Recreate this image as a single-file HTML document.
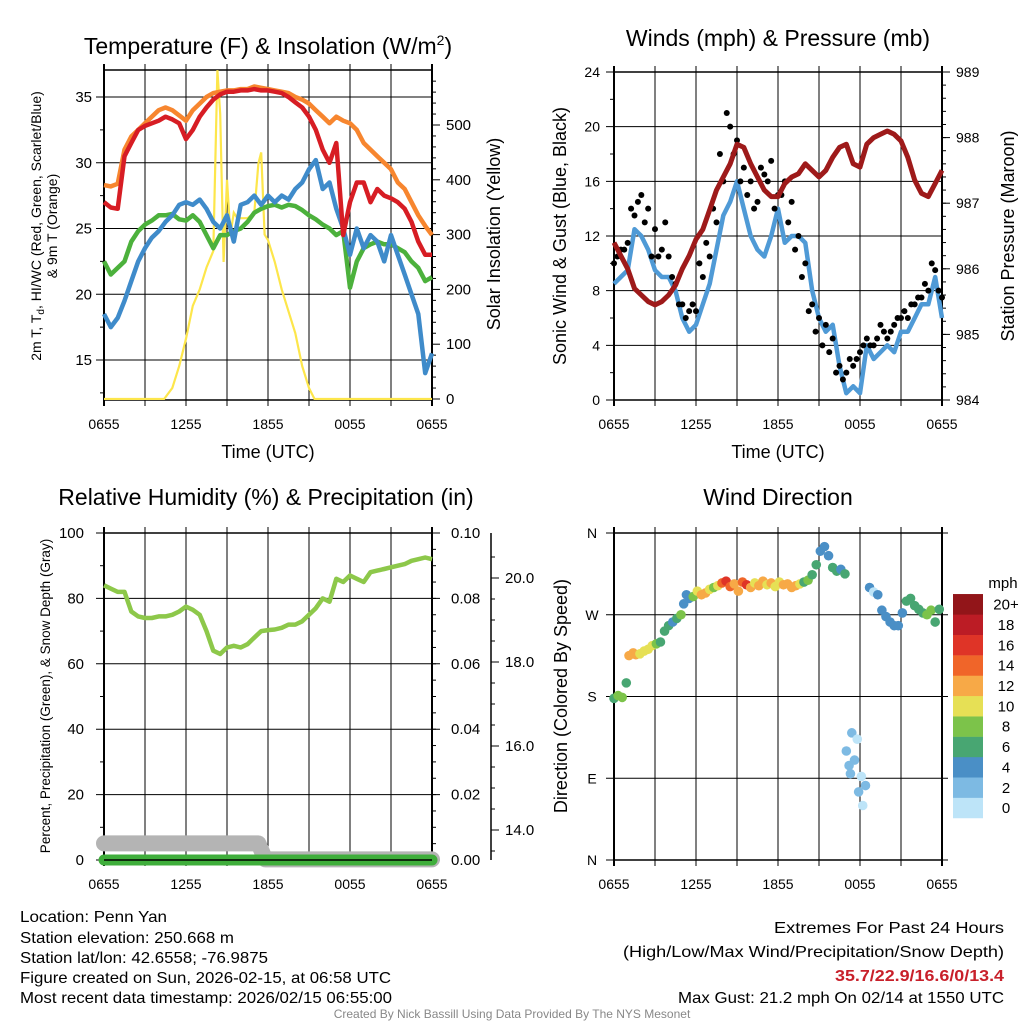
<!DOCTYPE html>
<html><head><meta charset="utf-8"><title>Penn Yan Mesonet</title>
<style>
html,body{margin:0;padding:0;background:#fff;}
svg{display:block;font-family:"Liberation Sans",sans-serif;}
.t{font-size:14px;fill:#000;}
.ttl{font-size:23px;fill:#000;}
.al{font-size:18px;fill:#000;}
.info{font-size:16px;fill:#000;font-family:"Liberation Sans Narrow","Liberation Sans",sans-serif;}
</style></head>
<body>
<svg id="fig" width="1024" height="1024" viewBox="0 0 1024 1024">
<rect x="0" y="0" width="1024" height="1024" fill="#fff"/>
<g id="layer"></g>
<!-- titles -->
<text class="ttl" x="268" y="54" text-anchor="middle">Temperature (F) &amp; Insolation (W/m<tspan dy="-9" font-size="14">2</tspan><tspan dy="9">)</tspan></text>
<text class="ttl" x="778" y="46" text-anchor="middle">Winds (mph) &amp; Pressure (mb)</text>
<text class="ttl" x="266" y="505" text-anchor="middle">Relative Humidity (%) &amp; Precipitation (in)</text>
<text class="ttl" x="778" y="505" text-anchor="middle">Wind Direction</text>
<!-- axis titles -->
<text class="al" x="268" y="458" text-anchor="middle">Time (UTC)</text>
<text class="al" x="778" y="458" text-anchor="middle">Time (UTC)</text>
<text x="41" y="226" font-size="14" text-anchor="middle" transform="rotate(-90 41 226)">2m T, T<tspan dy="3" font-size="10">d</tspan><tspan dy="-3">, HI/WC (Red, Green, Scarlet/Blue)</tspan></text>
<text x="57" y="226" font-size="14" text-anchor="middle" transform="rotate(-90 57 226)">&amp; 9m T (Orange)</text>
<text class="al" x="500" y="234" text-anchor="middle" transform="rotate(-90 500 234)">Solar Insolation (Yellow)</text>
<text class="al" x="566" y="236" text-anchor="middle" transform="rotate(-90 566 236)">Sonic Wind &amp; Gust (Blue, Black)</text>
<text class="al" x="1014" y="236" text-anchor="middle" transform="rotate(-90 1014 236)">Station Pressure (Maroon)</text>
<text x="50" y="696" font-size="13.5" text-anchor="middle" transform="rotate(-90 50 696)">Percent, Precipitation (Green), &amp; Snow Depth (Gray)</text>
<text class="al" x="567" y="696" text-anchor="middle" transform="rotate(-90 567 696)">Direction (Colored By Speed)</text>
<text x="1003" y="588" font-size="15" text-anchor="middle">mph</text>
<!-- info text -->
<text class="info" x="20" y="922" textLength="147" lengthAdjust="spacingAndGlyphs">Location: Penn Yan</text>
<text class="info" x="20" y="943" textLength="214" lengthAdjust="spacingAndGlyphs">Station elevation: 250.668 m</text>
<text class="info" x="20" y="963" textLength="248" lengthAdjust="spacingAndGlyphs">Station lat/lon: 42.6558; -76.9875</text>
<text class="info" x="20" y="983" textLength="371" lengthAdjust="spacingAndGlyphs">Figure created on Sun, 2026-02-15, at 06:58 UTC</text>
<text class="info" x="20" y="1003" textLength="372" lengthAdjust="spacingAndGlyphs">Most recent data timestamp: 2026/02/15 06:55:00</text>
<text class="info" x="774" y="933" textLength="230" lengthAdjust="spacingAndGlyphs">Extremes For Past 24 Hours</text>
<text class="info" x="623" y="957" textLength="381" lengthAdjust="spacingAndGlyphs">(High/Low/Max Wind/Precipitation/Snow Depth)</text>
<text class="info" x="835" y="981" textLength="169" lengthAdjust="spacingAndGlyphs" font-weight="bold" style="fill:#c8202a">35.7/22.9/16.6/0/13.4</text>
<text class="info" x="678" y="1003" textLength="326" lengthAdjust="spacingAndGlyphs">Max Gust: 21.2 mph On 02/14 at 1550 UTC</text>
<text x="512" y="1018" font-size="12" text-anchor="middle" fill="#888" font-family="Liberation Sans Narrow, Liberation Sans, sans-serif">Created By Nick Bassill Using Data Provided By The NYS Mesonet</text>
</svg>
<script>
// ---------- data (half-hour samples, hours since 0655 UTC) ----------
const xTickLabels = ['0655','1255','1855','0055','0655'];
const orangeT = [28.3,28.2,28.4,31,32,32.5,33,33.5,34,34.2,34,33.6,33.2,34,34.5,35,35.3,35.4,35.5,35.5,35.6,35.6,35.8,35.7,35.6,35.5,35.4,35.3,35.0,34.8,34.5,34.0,33.5,33.0,33.5,33.2,33.0,32.5,31.5,31.0,30.5,30.0,29.5,28.5,28.0,27.0,26.0,25.2,24.5];
const redT = [27,26.6,26.5,30.5,31.5,32.5,32.8,33,33.2,33.5,33.3,33,31.8,32.5,33.5,34.2,34.8,35.2,35.4,35.4,35.5,35.5,35.6,35.5,35.5,35.4,35.3,35,34.6,34.2,33.5,32.5,31,30,31.5,24.5,27,28.5,28.5,27,28,27.5,27.3,27,26.5,25.5,24,23,23];
const blueT = [18.5,17.5,18.2,19.5,21,22.5,23.5,24.3,24.8,25.5,26,26.8,27,26.8,27.2,26.5,25.5,25,26,24,26.8,27,27.5,26.8,27.5,27,27.5,27.2,28,28.5,29.5,30.2,28,28.5,26.5,25,23,25,23.5,24.5,24,22.5,24.5,23,21.5,20,18.5,14,15.5];
const greenT = [22.5,21.5,22,22.5,24,24.8,25.3,25.6,26,26,26.1,25.7,25.6,26,25.5,24.5,23.5,24.5,24.5,24.8,25,25.5,26.2,26.5,26.7,26.8,26.6,26.8,26.7,26.4,26,25.7,25.3,25,24.5,24.8,20.5,22.5,23.5,23.8,24,23.8,23.8,23.5,23.2,22.5,22,21,21.3];
const solarT = [0,4.4,5,5.5,6,6.5,7,7.5,8,8.3,8.5,8.75,9,9.25,9.5,9.75,10,10.5,11,11.3,11.5,11.75,12,12.5,13,13.5,14,14.5,15,15.4,24];
const solarV = [0,0,20,60,110,170,200,240,270,600,520,250,400,300,340,330,330,330,340,430,450,300,290,250,200,160,120,60,20,0,0];
const windV = [8.5,9,9.5,12.5,12,11,9.5,9,9,8,6,5,5.5,7,8.5,11,13.5,14.5,16,14,12,11,10.5,12,14,11.5,12,12,11.5,8,6,5,5.5,2.5,0.5,1,0.5,4,3,3.5,4,3.5,5,5,6,7,7,9,6];
const gustA = [10,11,11.5,13.5,15,14,12.5,11,10.5,8.5,7,6.5,6.5,9,10.5,13,16,20,19,17,16,14.5,16.5,17.5,15,16,14.5,12,10,7,6,5.5,4.5,2.5,2,2.5,3.5,4.5,4,5.5,4.5,5.5,6,6,7,7.5,8,9.5,7.5];
const gustB = [10.5,11,14,14.5,13,10.5,10.5,13,9,7,6,7,10,11.5,14,18,21,18,16,15,14,17,16,14,15,13,11,9,6.5,5,4,3.5,2,1.5,3,3,4,4,4.5,5,5,6,6.5,7,7.5,8.5,10,8];
const pressureV = [986.4,986.2,986.0,985.7,985.6,985.5,985.45,985.5,985.6,985.75,986.0,986.2,986.45,986.6,986.9,987.2,987.4,987.6,987.9,987.85,987.6,987.4,987.2,987.1,987.1,987.3,987.4,987.45,987.6,987.5,987.4,987.5,987.7,987.85,987.9,987.6,987.55,987.9,988.0,988.05,988.1,988.05,987.95,987.7,987.35,987.15,987.1,987.3,987.5];
const rhV = [84,83,82,82,76,74.5,74,74,74.5,74.5,75,76,77.5,76.5,75,70,64,63,65,65.5,65,66,68,70,70.3,70.5,71,72,72,73,75,77,80,79,86,85,87,86,85,88,88.5,89,89.5,90,90.5,91.5,92,92.5,92];
const precipV = [0,0,0,0,0,0,0,0,0,0,0,0,0,0,0,0,0,0,0,0,0,0,0,0,0,0,0,0,0,0,0,0,0,0,0,0,0,0,0,0,0,0,0,0,0,0,0,0,0];
const snowT = [0,11.3,11.8,24];
const snowV = [13.68,13.68,13.3,13.3];
const dirT = [0,0.3,0.6,0.9,1.1,1.4,1.6,1.9,2.2,2.5,2.8,3.1,3.4,3.7,4.0,4.3,4.6,4.9,5.1,5.3,5.5,5.8,6.1,6.4,6.7,7.0,7.3,7.6,7.9,8.2,8.5,8.8,9.1,9.4,9.7,10.0,10.3,10.6,10.9,11.2,11.5,11.8,12.1,12.4,12.7,13.0,13.3,13.6,13.9,14.2,14.5,14.8,15.1,15.4,15.7,16.0,16.3,16.6,16.9,17.2,17.0,17.3,17.6,17.9,18.2,17.4,17.8,18.1,18.4,18.7,19.0,19.3,19.6,19.9,20.2,20.5,20.8,21.1,21.4,21.7,22.0,22.3,22.6,22.9,23.2,23.5,23.8];
const dirDeg = [178,181,179,195,225,228,226,227,230,232,236,238,240,252,258,262,266,270,282,292,288,290,296,292,294,298,300,302,305,307,301,304,296,306,303,300,305,302,307,303,305,301,306,303,304,300,302,304,306,308,314,325,340,345,335,322,318,320,315,104,120,95,110,75,60,140,133,92,82,300,295,292,275,268,262,258,258,272,285,288,280,276,272,270,275,262,276];
const dirSpd = [7,9,8,7,12,13,12,11,10,11,10,9,7,6,7,5,6,8,5,4,5,9,10,13,12,11,8,11,14,17,15,12,13,14,16,12,10,13,12,11,12,11,10,12,13,12,12,11,6,9,7,6,5,4,5,6,7,5,7,2,2,3,2,2,1,3,1,1,3,4,1,4,4,5,4,4,4,5,7,6,7,7,6,8,8,7,6];
const speedColors = ['#bde4f8','#7dbae3','#4a8fc6','#48a672','#7cc34a','#e6e055','#f7a947','#f06529','#df3427','#bc1c25','#921519'];
const speedLabels = ['0','2','4','6','8','10','12','14','16','18','20+'];

// ---------- helpers ----------
const NS = 'http://www.w3.org/2000/svg';
const layer = document.getElementById('layer');
function mk(tag, attrs, name, inter) {
  const el = document.createElementNS(NS, tag);
  for (const k in attrs) el.setAttribute(k, attrs[k]);
  
  
  layer.appendChild(el);
  return el;
}
function label(x, y, txt, anchor, name, size) {
  const t = mk('text', {x: x, y: y, 'text-anchor': anchor, 'font-size': size || 14}, name, false);
  t.textContent = txt;
  return t;
}
function lin(d0, d1, r0, r1) { return v => r0 + (v - d0) / (d1 - d0) * (r1 - r0); }
function halfHours(n) { const a = []; for (let i = 0; i < n; i++) a.push(i * 0.5); return a; }
function pathD(xs, ys, fx, fy) { return xs.map((t, i) => (i ? 'L' : 'M') + fx(t).toFixed(1) + ' ' + fy(ys[i]).toFixed(1)).join(' '); }

function panel(P, id) {
  for (let h = 0; h <= 24; h += 3) {
    const x = P.fx(h);
    mk('line', {x1: x, y1: P.y0 - 6, x2: x, y2: P.y1 + 6, stroke: '#000', 'stroke-width': (h % 24 === 0) ? 2 : 1}, id + '-vgrid', false);
  }
  mk('line', {x1: P.x0, y1: P.y0, x2: P.x1, y2: P.y0, stroke: '#000', 'stroke-width': 1.5}, id + '-top-border', false);
  mk('line', {x1: P.x0, y1: P.y1, x2: P.x1, y2: P.y1, stroke: '#000', 'stroke-width': 1.5}, id + '-bottom-border', false);
  xTickLabels.forEach((l, i) => {
    label(P.fx(i * 6), P.y1 + 29, l, 'middle', id + '-x-tick-label');
  });
}

// ---------- Panel 1: temperature ----------
const P1 = {x0: 104, x1: 432, y0: 70, y1: 400};
P1.fx = lin(0, 24, P1.x0, P1.x1);
const fyT = lin(15, 35, 360, 97);
const fyS = lin(0, 500, 399, 125);
panel(P1, 'temp');
[15, 20, 25, 30, 35].forEach(v => {
  mk('line', {x1: P1.x0 - 8, y1: fyT(v), x2: P1.x1, y2: fyT(v), stroke: '#000', 'stroke-width': 1}, 'temp-hgrid', false);
  label(P1.x0 - 12, fyT(v) + 5, String(v), 'end', 'temp-y-tick-label', 15);
});
[12.5,17.5,22.5,27.5,32.5,37.5].forEach(v => { if (fyT(v) > P1.y0) mk('line', {x1: P1.x0 - 4, y1: fyT(v), x2: P1.x0, y2: fyT(v), stroke: '#000'}, 'temp-minor-tick', false); });
[0,100,200,300,400,500].forEach(v => {
  mk('line', {x1: P1.x1, y1: fyS(v), x2: P1.x1 + 8, y2: fyS(v), stroke: '#000'}, 'solar-tick', false);
  label(P1.x1 + 14, fyS(v) + 5, String(v), 'start', 'solar-y-tick-label', 15);
});
for (let v = 20; v < 600; v += 20) if (v % 100) mk('line', {x1: P1.x1, y1: fyS(v), x2: P1.x1 + 4, y2: fyS(v), stroke: '#000'}, 'solar-minor-tick', false);
const hh = halfHours(49);
const clip1 = document.createElementNS(NS, 'clipPath'); clip1.setAttribute('id', 'c1');
const cr1 = document.createElementNS(NS, 'rect'); cr1.setAttribute('x', P1.x0); cr1.setAttribute('y', P1.y0 - 4); cr1.setAttribute('width', P1.x1 - P1.x0 + 2); cr1.setAttribute('height', P1.y1 - P1.y0 + 4);
clip1.appendChild(cr1); layer.appendChild(clip1);
mk('path', {d: pathD(solarT, solarV, P1.fx, fyS), fill: 'none', stroke: '#fde64b', 'stroke-width': 2.2, 'clip-path': 'url(#c1)'}, 'solar-insolation-line', false);
mk('path', {d: pathD(hh, greenT, P1.fx, fyT), fill: 'none', stroke: '#4cb13c', 'stroke-width': 4.5, 'stroke-linejoin': 'round'}, 'dewpoint-line', false);
mk('path', {d: pathD(hh, blueT, P1.fx, fyT), fill: 'none', stroke: '#3f8bca', 'stroke-width': 4.5, 'stroke-linejoin': 'round'}, 'windchill-line', false);
mk('path', {d: pathD(hh, orangeT, P1.fx, fyT), fill: 'none', stroke: '#f7862f', 'stroke-width': 4.5, 'stroke-linejoin': 'round'}, 'temp-9m-line', false);
mk('path', {d: pathD(hh, redT, P1.fx, fyT), fill: 'none', stroke: '#d71d24', 'stroke-width': 4.5, 'stroke-linejoin': 'round'}, 'temp-2m-line', false);

// ---------- Panel 2: winds ----------
const P2 = {x0: 614, x1: 942, y0: 72, y1: 400};
P2.fx = lin(0, 24, P2.x0, P2.x1);
const fyW = lin(0, 24, 400, 72);
const fyP = lin(984, 989, 400, 72);
panel(P2, 'wind');
[0,4,8,12,16,20,24].forEach(v => {
  mk('line', {x1: P2.x0 - 8, y1: fyW(v), x2: P2.x1, y2: fyW(v), stroke: '#000', 'stroke-width': 1}, 'wind-hgrid', false);
  label(P2.x0 - 14, fyW(v) + 5, String(v), 'end', 'wind-y-tick-label');
});
[2,6,10,14,18,22].forEach(v => mk('line', {x1: P2.x0 - 4, y1: fyW(v), x2: P2.x0, y2: fyW(v), stroke: '#000'}, 'wind-minor-tick', false));
[984,985,986,987,988,989].forEach(v => {
  mk('line', {x1: P2.x1, y1: fyP(v), x2: P2.x1 + 8, y2: fyP(v), stroke: '#000'}, 'pressure-tick', false);
  label(P2.x1 + 14, fyP(v) + 5, String(v), 'start', 'pressure-y-tick-label');
});
for (let v = 984.2; v < 989; v += 0.2) mk('line', {x1: P2.x1, y1: fyP(v), x2: P2.x1 + 4, y2: fyP(v), stroke: '#000'}, 'pressure-minor-tick', false);
mk('path', {d: pathD(hh, windV, P2.fx, fyW), fill: 'none', stroke: '#4f9ad6', 'stroke-width': 4.5, 'stroke-linejoin': 'round'}, 'sonic-wind-line', false);
gustA.forEach((g, i) => { mk('circle', {cx: P2.fx(hh[i]), cy: fyW(g), r: 3, fill: '#000'}, 'gust-point', false); });
gustB.forEach((g, i) => { mk('circle', {cx: P2.fx(hh[i] + 0.25), cy: fyW(g), r: 3, fill: '#000'}, 'gust-point', false); });
mk('path', {d: pathD(hh, pressureV, P2.fx, fyP), fill: 'none', stroke: '#9e1a1a', 'stroke-width': 5, 'stroke-linejoin': 'round'}, 'pressure-line', false);

// ---------- Panel 3: humidity ----------
const P3 = {x0: 104, x1: 432, y0: 533, y1: 860};
P3.fx = lin(0, 24, P3.x0, P3.x1);
const fyR = lin(0, 100, 860, 533);
const fyPr = lin(0, 0.1, 860, 533);
const fySn = lin(14, 20, 830, 578);
panel(P3, 'rh');
[0,20,40,60,80,100].forEach(v => {
  mk('line', {x1: P3.x0 - 8, y1: fyR(v), x2: P3.x1 + 8, y2: fyR(v), stroke: '#000', 'stroke-width': 1}, 'rh-hgrid', false);
  label(P3.x0 - 20, fyR(v) + 5, String(v), 'end', 'rh-y-tick-label', 15);
});
[10,30,50,70,90].forEach(v => mk('line', {x1: P3.x0 - 4, y1: fyR(v), x2: P3.x0, y2: fyR(v), stroke: '#000'}, 'rh-minor-tick', false));
[0,0.02,0.04,0.06,0.08,0.10].forEach(v => label(P3.x1 + 19, fyPr(v) + 5, v.toFixed(2), 'start', 'precip-y-tick-label', 15));
for (let v = 0.005; v < 0.1; v += 0.005) mk('line', {x1: P3.x1, y1: fyPr(v), x2: P3.x1 + 4, y2: fyPr(v), stroke: '#000'}, 'precip-minor-tick', false);
mk('line', {x1: 491, y1: 533, x2: 491, y2: 860, stroke: '#000', 'stroke-width': 1.5}, 'snow-axis-line', false);
[14,16,18,20].forEach(v => {
  mk('line', {x1: 491, y1: fySn(v), x2: 499, y2: fySn(v), stroke: '#000'}, 'snow-tick', false);
  label(505, fySn(v) + 5, v.toFixed(1), 'start', 'snow-y-tick-label', 15);
});
for (let v = 13.5; v < 21; v += 0.5) if (v % 2) mk('line', {x1: 491, y1: fySn(v), x2: 495, y2: fySn(v), stroke: '#000'}, 'snow-minor-tick', false);
mk('path', {d: pathD(snowT, snowV, P3.fx, fySn), fill: 'none', stroke: '#b4b4b4', 'stroke-width': 16, 'stroke-linecap': 'round', 'stroke-linejoin': 'round'}, 'snow-depth-line', false);
mk('path', {d: pathD(hh, precipV, P3.fx, fyPr), fill: 'none', stroke: '#3fae3b', 'stroke-width': 11, 'stroke-linecap': 'round'}, 'precipitation-line', false);
mk('line', {x1: P3.x0, y1: P3.y1, x2: P3.x1, y2: P3.y1, stroke: '#000', 'stroke-width': 1.5}, 'rh-bottom-axis', false);
mk('path', {d: pathD(hh, rhV, P3.fx, fyR), fill: 'none', stroke: '#8dc84a', 'stroke-width': 4.5, 'stroke-linejoin': 'round'}, 'relative-humidity-line', false);

// ---------- Panel 4: direction ----------
const P4 = {x0: 614, x1: 942, y0: 533, y1: 860};
P4.fx = lin(0, 24, P4.x0, P4.x1);
const fyD = lin(0, 360, 860, 533);
panel(P4, 'dir');
['N','E','S','W','N'].forEach((l, i) => {
  const v = i * 90;
  mk('line', {x1: P4.x0 - 8, y1: fyD(v), x2: P4.x1 + 6, y2: fyD(v), stroke: '#000', 'stroke-width': 1}, 'dir-hgrid', false);
  label(P4.x0 - 22, fyD(v) + 5, l, 'middle', 'dir-y-tick-label');
});
dirDeg.forEach((d, i) => {
  const bin = Math.max(0, Math.min(10, Math.floor(dirSpd[i] / 2)));
  mk('circle', {cx: P4.fx(dirT[i]), cy: fyD(d), r: 4.8, fill: speedColors[bin]}, 'direction-point', false);
});
speedColors.forEach((c, i) => {
  const y = 818 - (i + 1) * 20.36;
  mk('rect', {x: 953, y: y, width: 30, height: 20.6, fill: c}, 'colorbar-bin', false);
  label(1006, y + 15.5, speedLabels[i], 'middle', 'colorbar-label', 15);
});
</script>
</body></html>
